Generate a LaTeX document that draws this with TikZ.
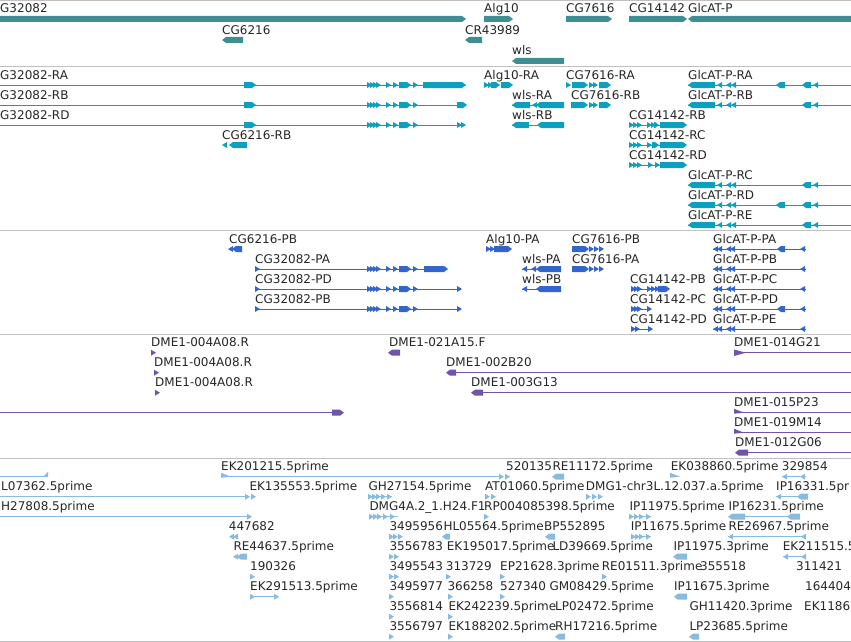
\documentclass[tikz,border=0pt]{standalone}
\usepackage{fontspec}
\setmainfont{DejaVu Sans}
\definecolor{geneC}{RGB}{61,143,145}
\definecolor{trC}{RGB}{12,160,192}
\definecolor{prC}{RGB}{51,102,204}
\definecolor{dmC}{RGB}{112,84,166}
\definecolor{estC}{RGB}{136,187,221}
\definecolor{sepC}{RGB}{192,192,192}
\colorlet{trk}{geneC}
\newcounter{lb}
\newcommand{\lbl}[3]{\stepcounter{lb}\node[lab] (L\arabic{lb}) at (#1,#2) {#3};}
\newcommand{\exonR}[3]{\fill[trk] (#1,#3-3) -- ({#2-4},#3-3) -- (#2,#3) -- ({#2-4},#3+3) -- (#1,#3+3) -- cycle;}
\newcommand{\exonL}[3]{\fill[trk] (#1,#3) -- ({#1+4},#3-3) -- (#2,#3-3) -- (#2,#3+3) -- ({#1+4},#3+3) -- cycle;}
\newcommand{\headR}[2]{\fill[trk] (#1,#2-3) -- ({#1+5},#2) -- (#1,#2+3) -- cycle;}
\newcommand{\headL}[2]{\fill[trk] ({#1+5},#2-3) -- (#1,#2) -- ({#1+5},#2+3) -- cycle;}
\newcommand{\flagR}[2]{\fill[trk] (#1,#2-4) -- ({#1+10},#2) -- (#1,#2+1) -- cycle;}
\newcommand{\lineX}[3]{\draw[trk,line width=0.9pt] (#1,#3) -- (#2,#3);}
\newcommand{\clust}[1]{\headR{367}{#1}\headR{370}{#1}\headR{373}{#1}\headR{376}{#1}\headR{386}{#1}\headR{393}{#1}\exonR{399}{411}{#1}\headR{413}{#1}}
\newcommand{\glcT}[1]{\exonL{688}{715}{#1}\headL{717}{#1}\headL{726}{#1}\headL{731}{#1}\exonL{802}{811}{#1}\headL{813}{#1}}
\newcommand{\glcP}[1]{\lineX{713}{806}{#1}\headL{713}{#1}\headL{717}{#1}\headL{726}{#1}\headL{730}{#1}\headL{800}{#1}}
\begin{document}
\begin{tikzpicture}[x=1pt,y=-1pt,
  lab/.style={inner sep=0pt,anchor=base west,font=\fontsize{12}{14}\selectfont,text=black!85},
  sep/.style={draw=sepC,line width=1pt}]
\useasboundingbox (0,0) rectangle (851,642);
\clip (0,0) rectangle (851,642);
% separators
\foreach \yy in {1,66.3,230.3,334.3,458,641} \draw[sep] (0,\yy) -- (851,\yy);

% ---------------- genes
\colorlet{trk}{geneC}
\exonR{-5}{466}{19}\lbl{0}{13}{G32082}
\exonL{222}{243}{40}\lbl{222}{34.3}{CG6216}
\exonR{484}{513}{19}\lbl{484}{13}{Alg10}
\exonL{465}{482}{40}\lbl{465}{34.3}{CR43989}
\exonL{512}{564}{61}\lbl{512}{55}{wls}
\exonR{566}{612}{19}\lbl{566}{13}{CG7616}
\exonR{629}{687}{19}\lbl{629}{13}{CG14142}
\exonL{688}{860}{19}\lbl{688}{13}{GlcAT-P}

% ---------------- transcripts
\colorlet{trk}{trC}
\lineX{-2}{466}{85}\exonR{244}{256}{85}\clust{85}\exonR{423}{466}{85}
\lineX{-2}{460}{105}\exonR{244}{256}{105}\clust{105}\exonR{457}{467}{105}
\lineX{-2}{460}{125}\exonR{244}{256}{125}\clust{125}\headR{457}{125}\headR{461}{125}
\lbl{0}{79.3}{G32082-RA}\lbl{0}{99.3}{G32082-RB}\lbl{0}{119.3}{G32082-RD}
\headL{222}{145}\exonL{229}{247}{145}\lbl{222}{139.3}{CG6216-RB}
\headR{484}{85}\headR{488}{85}\exonR{491}{500}{85}\exonR{501}{513}{85}\lbl{484}{79.3}{Alg10-RA}
\lineX{512}{564}{105}\exonL{512}{530}{105}\headL{532}{105}\exonL{536}{564}{105}\lbl{512}{99.3}{wls-RA}
\lineX{512}{564}{125}\exonL{512}{529}{125}\exonL{537}{564}{125}\lbl{512}{119.3}{wls-RB}
\headR{566}{85}\exonR{572}{588}{85}\headR{589}{85}\headR{593}{85}\exonR{599}{611}{85}\lbl{566}{79.3}{CG7616-RA}
\exonR{571}{588}{105}\headR{589}{105}\headR{593}{105}\exonR{599}{611}{105}\lbl{571}{99.3}{CG7616-RB}
\lineX{629}{686}{125}\headR{629}{125}\headR{633}{125}\headR{637}{125}\headR{647}{125}\headR{651}{125}\exonR{654}{659}{125}\exonR{660}{687}{125}\lbl{629}{119.3}{CG14142-RB}
\lineX{629}{686}{145}\headR{629}{145}\headR{633}{145}\headR{637}{145}\headR{647}{145}\exonR{652}{659}{145}\exonR{660}{687}{145}\lbl{629}{139.3}{CG14142-RC}
\lineX{629}{686}{165}\headR{629}{165}\headR{633}{165}\headR{637}{165}\headR{648}{165}\headR{655}{165}\exonR{660}{687}{165}\lbl{629}{159.3}{CG14142-RD}
\lineX{688}{851}{85}\glcT{85}\exonL{776}{785}{85}\lbl{688}{79.3}{GlcAT-P-RA}
\lineX{688}{851}{105}\glcT{105}\lbl{688}{99.3}{GlcAT-P-RB}
\lineX{688}{851}{185}\glcT{185}\lbl{688}{179.3}{GlcAT-P-RC}
\lineX{688}{851}{205}\glcT{205}\exonL{776}{785}{205}\lbl{688}{199.3}{GlcAT-P-RD}
\lineX{688}{851}{225}\glcT{225}\lbl{688}{219.3}{GlcAT-P-RE}

% ---------------- proteins
\colorlet{trk}{prC}
\headL{228}{249}\exonL{232}{242}{249}\lbl{229}{243.3}{CG6216-PB}
\lineX{255}{446}{269}\headR{255}{269}\clust{269}\exonR{424}{448}{269}\lbl{255}{263.3}{CG32082-PA}
\lineX{255}{460}{289}\headR{255}{289}\clust{289}\headR{457}{289}\lbl{255}{283.3}{CG32082-PD}
\lineX{255}{460}{309}\headR{255}{309}\clust{309}\headR{457}{309}\lbl{255}{303.3}{CG32082-PB}
\headR{486}{249}\headR{490}{249}\exonR{494}{512}{249}\lbl{486}{243.3}{Alg10-PA}
\lineX{522}{561}{269}\headL{522}{269}\headL{531}{269}\exonL{536}{561}{269}\lbl{522}{263.3}{wls-PA}
\lineX{522}{561}{289}\headL{522}{289}\exonL{536}{561}{289}\lbl{522}{283.3}{wls-PB}
\exonR{572}{589}{249}\headR{589}{249}\headR{594}{249}\headR{599}{249}\lbl{572}{243.3}{CG7616-PB}
\exonR{572}{589}{269}\headR{589}{269}\headR{594}{269}\headR{599}{269}\lbl{572}{263.3}{CG7616-PA}
\lineX{631}{668}{289}\headR{631}{289}\headR{634}{289}\headR{637}{289}\headR{647}{289}\headR{651}{289}\headR{655}{289}\exonR{658}{670}{289}\lbl{630}{283.3}{CG14142-PB}
\lineX{631}{651}{309}\headR{631}{309}\headR{634}{309}\headR{637}{309}\headR{647}{309}\lbl{630}{303.3}{CG14142-PC}
\lineX{631}{652}{329}\headR{631}{329}\headR{635}{329}\headR{648}{329}\lbl{630}{323.3}{CG14142-PD}
\glcP{249}\exonL{777}{785}{249}\lbl{713}{243.3}{GlcAT-P-PA}
\glcP{269}\lbl{713}{263.3}{GlcAT-P-PB}
\glcP{289}\lbl{713}{283.3}{GlcAT-P-PC}
\glcP{309}\exonL{777}{785}{309}\lbl{713}{303.3}{GlcAT-P-PD}
\glcP{329}\lbl{713}{323.3}{GlcAT-P-PE}

% ---------------- clone ends
\colorlet{trk}{dmC}
\headR{151}{352.7}\lbl{151}{346.7}{DME1-004A08.R}
\headR{154}{372.7}\lbl{154}{366.7}{DME1-004A08.R}
\headR{155}{392.7}\lbl{155}{386.7}{DME1-004A08.R}
\lineX{-2}{340}{412.7}\exonR{332}{344}{412.7}
\exonL{388}{400}{352.7}\lbl{389}{346.7}{DME1-021A15.F}
\lineX{448}{851}{372.7}\exonL{446}{456}{372.7}\lbl{446}{366.7}{DME1-002B20}
\lineX{473}{851}{392.7}\exonL{471}{483}{392.7}\lbl{471}{386.7}{DME1-003G13}
\lineX{734}{851}{352.7}\fill[trk] (734,349.5) -- (746,352.7) -- (734,356) -- cycle;\lbl{734}{346.7}{DME1-014G21}
\lineX{734}{851}{412.7}\flagR{734}{412.7}\lbl{734}{406.7}{DME1-015P23}
\lineX{734}{851}{432.7}\flagR{734}{432.7}\lbl{734}{426.7}{DME1-019M14}
\lineX{737}{851}{452.7}\exonL{735}{748}{452.7}\lbl{735}{446.7}{DME1-012G06}

% ---------------- ESTs
\colorlet{trk}{estC}
% row A
\lineX{-2}{48}{476.7}\fill[trk] (43,476.7) -- (48,472) -- (48,476.7) -- cycle;
\lineX{221}{502}{476.7}\flagR{221}{476.7}\headR{499}{476.7}\headR{505}{476.7}\lbl{221}{470.7}{EK201215.5prime}
\lbl{506}{470.7}{520135}
\exonL{552}{564}{476.7}\lbl{552.3}{470.7}{RE11172.5prime}
\flagR{670}{476.7}\lbl{670.7}{470.7}{EK038860.5prime}
\lineX{782}{806}{476.7}\headL{782}{476.7}\headL{800}{476.7}\lbl{781.7}{470.7}{329854}
% row B
\lineX{-2}{246}{496.7}\headR{245}{496.7}\headR{251}{496.7}\lbl{1}{490.7}{L07362.5prime}
\lbl{249.3}{490.7}{EK135553.5prime}
\lineX{368}{392}{496.7}\headR{368}{496.7}\headR{372}{496.7}\headR{376}{496.7}\headR{381}{496.7}\headR{387}{496.7}\lbl{368.3}{490.7}{GH27154.5prime}
\headR{485}{496.7}\headR{491}{496.7}\lbl{485}{490.7}{AT01060.5prime}
\headR{586}{496.7}\headR{592}{496.7}\headR{598}{496.7}\lbl{585.7}{490.7}{DMG1-chr3L.12.037.a.5prime}
\lineX{776}{807}{496.7}\headL{776}{496.7}\exonL{797}{808}{496.7}\lbl{776}{490.7}{IP16331.5pr}
% row C
\lineX{-2}{248}{516.7}\headR{247}{516.7}\lbl{1}{510.7}{H27808.5prime}
\lineX{369}{398}{516.7}\headR{369}{516.7}\headR{373}{516.7}\headR{377}{516.7}\headR{383}{516.7}\headR{390}{516.7}\lbl{369.3}{510.7}{DMG4A.2\_1.H24.F1}
\headR{484}{516.7}\lbl{484}{510.7}{RP004085398.5prime}
\lineX{629}{651}{516.7}\headR{629}{516.7}\headR{634}{516.7}\headR{639}{516.7}\headR{646}{516.7}\lbl{629.3}{510.7}{IP11975.5prime}
\lineX{730}{798}{516.7}\exonL{728}{745}{516.7}\exonL{787}{800}{516.7}\lbl{728.3}{510.7}{IP16231.5prime}
% row D
\headL{229}{536.7}\headL{233}{536.7}\lbl{228.7}{530.7}{447682}
\headR{389}{536.7}\headR{393}{536.7}\headR{398}{536.7}\lbl{389.3}{530.7}{3495956}
\exonL{442}{450}{536.7}\lbl{443.3}{530.7}{HL05564.5prime}
\exonL{545}{555}{536.7}\lbl{544}{530.7}{BP552895}
\lineX{631}{651}{536.7}\headR{631}{536.7}\headR{635}{536.7}\headR{639}{536.7}\headR{646}{536.7}\lbl{630.7}{530.7}{IP11675.5prime}
\lineX{728}{806}{536.7}\headL{728}{536.7}\headL{801}{536.7}\lbl{728.3}{530.7}{RE26967.5prime}
% row E
\headL{233}{556.7}\exonL{237}{247}{556.7}\lbl{233.3}{550.7}{RE44637.5prime}
\headR{389}{556.7}\headR{394}{556.7}\lbl{389.3}{550.7}{3556783}
\lbl{446.7}{550.7}{EK195017.5prime}
\lbl{552.3}{550.7}{LD39669.5prime}
\exonL{673}{687}{556.7}\lbl{673.3}{550.7}{IP11975.3prime}
\lineX{783}{806}{556.7}\headL{783}{556.7}\headL{801}{556.7}\lbl{782.7}{550.7}{EK211515.5}
% row F
\headR{250}{576.7}\lbl{250}{570.7}{190326}
\headR{389}{576.7}\headR{394}{576.7}\lbl{389.3}{570.7}{3495543}
\headR{446}{576.7}\lbl{445.7}{570.7}{313729}
\headR{500}{576.7}\lbl{500}{570.7}{EP21628.3prime}
\headR{602}{576.7}\lbl{601.7}{570.7}{RE01511.3prime}
\lbl{700}{570.7}{355518}
\lbl{796}{570.7}{311421}
% row G
\lineX{250}{278}{596.7}\headR{250}{596.7}\headR{274}{596.7}\lbl{250}{590.7}{EK291513.5prime}
\headR{389}{596.7}\lbl{389.3}{590.7}{3495977}
\headR{448}{596.7}\lbl{447.3}{590.7}{366258}
\headR{500}{596.7}\lbl{500}{590.7}{527340}
\lbl{549.3}{590.7}{GM08429.5prime}
\exonL{674}{687}{596.7}\lbl{674}{590.7}{IP11675.3prime}
\lbl{805}{590.7}{164404}
% row H
\headR{389}{616.7}\lbl{389.3}{610.7}{3556814}
\headR{448}{616.7}\lbl{448.3}{610.7}{EK242239.5prime}
\lbl{555}{610.7}{LP02472.5prime}
\lbl{689.3}{610.7}{GH11420.3prime}
\lbl{804}{610.7}{EK1186}
% row I
\headR{389}{636.7}\lbl{389.3}{630.7}{3556797}
\headR{448}{636.7}\lbl{448.3}{630.7}{EK188202.5prime}
\exonL{555}{565}{636.7}\lbl{555}{630.7}{RH17216.5prime}
\exonL{689}{699}{636.7}\lbl{689.3}{630.7}{LP23685.5prime}
\end{tikzpicture}
\end{document}
